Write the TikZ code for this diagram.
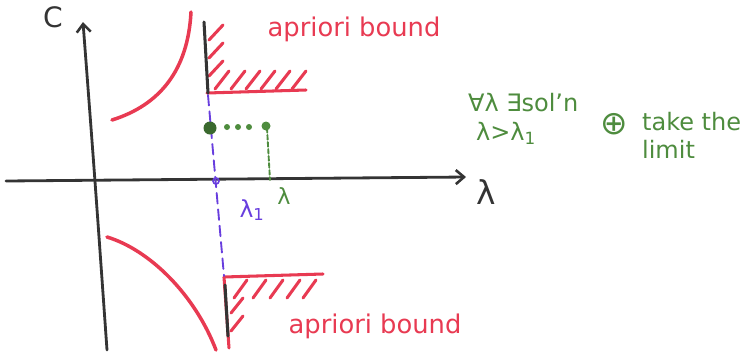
\documentclass[tikz,border=0pt]{standalone}
\usepackage{fontspec}
\setsansfont{DejaVu Sans}
\usetikzlibrary{arrows.meta}
\definecolor{penred}{RGB}{232,58,82}
\definecolor{pengreen}{RGB}{78,140,62}
\definecolor{penviolet}{RGB}{104,62,222}
\definecolor{penblack}{RGB}{52,52,52}
\begin{document}
\begin{tikzpicture}[x=0.03cm, y=-0.03cm, line cap=round, line join=round,
  axis/.style={penblack, line width=2.4pt, -{Straight Barb[length=7pt, width=12pt, line width=2.2pt]}},
  curve/.style={penred, line width=3pt},
  hatch/.style={penred, line width=2.6pt},
  wall/.style={penblack, line width=2.6pt},
  redtext/.style={penred, font=\sffamily\fontsize{22}{24}\selectfont},
  greentext/.style={pengreen, font=\sffamily\fontsize{20.5}{24}\selectfont}]
  \useasboundingbox (0,0) rectangle (750,354);
  % Axes
  \draw[axis] (6,181) -- (466,177);
  \draw[axis] (107,350) .. controls (95,180) .. (83,22);
  \node[penblack, font=\sffamily\fontsize{24}{26}\selectfont] (clabel) at (53,17) {C};
  \node[penblack, font=\sffamily\fontsize{28}{30}\selectfont] (lamaxis) at (486,192) {λ};
  % Branches of the curve
  \draw[curve] (112,120) .. controls (160,105) and (188,70) .. (191,12);
  \draw[curve] (107,237) .. controls (150,250) and (195,295) .. (216,350);
  % Upper a priori bound
  \draw[hatch] (207,93) -- (306,90);
  \foreach \y in {40,58,76}
    \draw[hatch] (209,\y) -- (223,\y-15);
  \foreach \x in {215,231,246,261,276,292}
    \draw[hatch] (\x,89) -- (\x+14,71);
  \draw[wall] (204,22) -- (208,93);
  \node[redtext] (upbound) at (354,29) {apriori bound};
  % Lower a priori bound
  \draw[hatch] (224,277) -- (323,274);
  \foreach \x in {234,253,270,287,303}
    \draw[hatch] (\x,298) -- (\x+13,280);
  \foreach \y in {313,331}
    \draw[hatch] (231,\y) -- (243,\y-15);
  \draw[hatch] (224,277) -- (229,348);
  \draw[wall] (225,285) -- (228,336);
  \node[redtext] (lowbound) at (375,326) {apriori bound};
  % Critical value lambda_1
  \draw[penviolet, line width=1.6pt, dash pattern=on 9pt off 5pt] (208,95) -- (224,276);
  \draw[penviolet, line width=1.4pt] (216,181) circle (3);
  \node[penviolet, font=\sffamily\fontsize{20}{22}\selectfont] (lamone) at (252,210) {λ\textsubscript{1}};
  % Solutions for lambda > lambda_1
  \fill[pengreen!75!black] (210,128) circle (6.5);
  \foreach \x in {227,238,249}
    \fill[pengreen] (\x,127) circle (3);
  \fill[pengreen] (266,126) circle (4.5);
  \draw[pengreen, line width=1.6pt, dash pattern=on 4pt off 2pt] (267,128) -- (270,180);
  \node[pengreen, font=\sffamily\fontsize{19}{21}\selectfont] (lamgreen) at (284,196) {λ};
  % Statement
  \node[greentext, anchor=west] (forall) at (464,103) {∀λ ∃sol'n};
  \node[greentext, anchor=west] (range) at (472,133) {λ>λ\textsubscript{1}};
  \node[greentext, font=\sffamily\fontsize{28}{30}\selectfont] (oplus) at (614,124) {⊕};
  \node[greentext, anchor=west, align=left] (limit) at (638,135) {take the\\ limit};
\end{tikzpicture}
\end{document}
